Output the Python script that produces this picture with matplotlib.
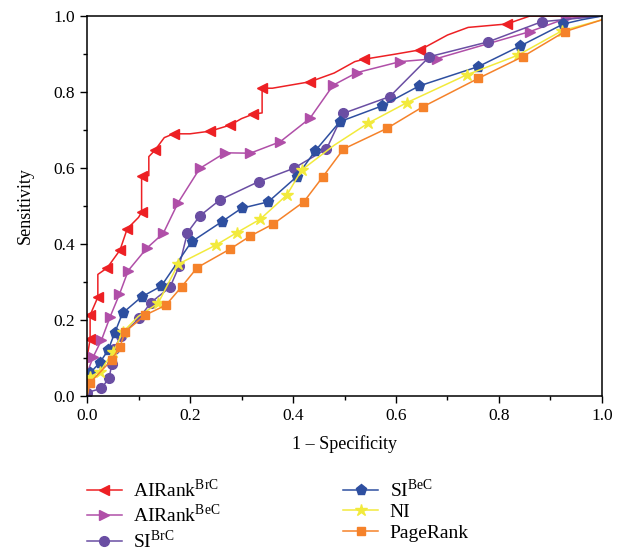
import numpy as np
import matplotlib.pyplot as plt
from matplotlib.ticker import MultipleLocator

plt.rcParams['font.family'] = ['Liberation Serif', 'DejaVu Serif']
plt.rcParams['mathtext.fontset'] = 'custom'
plt.rcParams['mathtext.rm'] = 'Liberation Serif'

# ROC curves: line vertices (x = 1 - specificity, y = sensitivity)
# and the indices of vertices that carry a marker
air_brc_x = [0, 0, 0.006, 0.006, 0.021, 0.021, 0.039, 0.064, 0.078, 0.1, 0.106, 0.106, 0.12, 0.12, 0.132,
             0.15, 0.168, 0.2, 0.239, 0.278, 0.30, 0.323, 0.34, 0.34, 0.36, 0.433, 0.48, 0.52, 0.537,
             0.6, 0.647, 0.7, 0.74, 0.815, 0.86, 1.0]
air_brc_y = [0, 0.1, 0.15, 0.213, 0.26, 0.32, 0.337, 0.384, 0.44, 0.47, 0.484, 0.579, 0.58, 0.63, 0.647,
             0.68, 0.69, 0.69, 0.697, 0.713, 0.73, 0.742, 0.745, 0.81, 0.81, 0.827, 0.85, 0.88, 0.886,
             0.90, 0.911, 0.95, 0.97, 0.979, 1.0, 1.0]
air_brc_m = [2, 3, 4, 6, 7, 8, 10, 11, 14, 16, 18, 19, 21, 23, 25, 28, 30, 33]

air_bec_x = [0, 0, 0.012, 0.028, 0.045, 0.063, 0.080, 0.116, 0.148, 0.177, 0.219, 0.268, 0.317, 0.375,
             0.433, 0.478, 0.524, 0.608, 0.679, 0.86, 0.931, 1.0]
air_bec_y = [0, 0.06, 0.103, 0.147, 0.209, 0.268, 0.33, 0.389, 0.428, 0.509, 0.599, 0.64, 0.639, 0.669,
             0.731, 0.818, 0.851, 0.88, 0.888, 0.959, 0.994, 1.0]
air_bec_m = list(range(2, 21))

si_brc_x = [0, 0.028, 0.043, 0.048, 0.053, 0.066, 0.101, 0.124, 0.161, 0.179, 0.195, 0.219, 0.258,
            0.333, 0.401, 0.465, 0.498, 0.588, 0.665, 0.779, 0.883, 1.0]
si_brc_y = [0.009, 0.02, 0.048, 0.083, 0.124, 0.159, 0.204, 0.246, 0.286, 0.342, 0.43, 0.474, 0.516,
            0.564, 0.599, 0.65, 0.744, 0.788, 0.893, 0.932, 0.985, 1.0]
si_brc_m = list(range(0, 21))

si_bec_x = [0, 0.006, 0.025, 0.041, 0.054, 0.069, 0.106, 0.144, 0.203, 0.262, 0.300, 0.352, 0.407,
            0.443, 0.491, 0.572, 0.645, 0.76, 0.841, 0.925, 0.96, 1.0]
si_bec_y = [0, 0.061, 0.088, 0.121, 0.167, 0.218, 0.261, 0.289, 0.406, 0.459, 0.494, 0.511, 0.577,
            0.645, 0.722, 0.763, 0.816, 0.867, 0.921, 0.979, 0.99, 1.0]
si_bec_m = list(range(1, 20))

ni_x = [0, 0.006, 0.025, 0.051, 0.07, 0.1, 0.138, 0.177, 0.25, 0.291, 0.336, 0.388, 0.417, 0.48,
        0.546, 0.621, 0.737, 0.837, 0.922, 1.0]
ni_y = [0, 0.051, 0.064, 0.117, 0.169, 0.21, 0.244, 0.347, 0.397, 0.43, 0.465, 0.529, 0.595, 0.66,
        0.718, 0.772, 0.845, 0.897, 0.961, 0.99]
ni_m = [1, 2, 3, 4, 6, 7, 8, 9, 10, 11, 12, 14, 15, 16, 17, 18]

pr_x = [0, 0.006, 0.048, 0.064, 0.074, 0.113, 0.153, 0.184, 0.214, 0.278, 0.317, 0.362, 0.421, 0.458,
        0.498, 0.582, 0.652, 0.76, 0.846, 0.928, 1.0]
pr_y = [0, 0.035, 0.095, 0.13, 0.169, 0.213, 0.239, 0.288, 0.338, 0.387, 0.421, 0.453, 0.511, 0.577,
        0.65, 0.704, 0.761, 0.836, 0.893, 0.959, 0.99]
pr_m = list(range(1, 20))

fig = plt.figure(figsize=(6.32, 5.58), dpi=100)
ax = fig.add_axes([0.1377, 0.2903, 0.8148, 0.681])

ax.plot(air_brc_x, air_brc_y, color='#ed2024', lw=1.1, marker='<', ms=7, markevery=air_brc_m,
        label='AIRank$^{\\mathrm{BrC}}$')
ax.plot(air_bec_x, air_bec_y, color='#b04fa8', lw=1.1, marker='>', ms=7, markevery=air_bec_m,
        label='AIRank$^{\\mathrm{BeC}}$')
ax.plot(si_brc_x, si_brc_y, color='#6a4ea3', lw=1.1, marker='o', ms=7, markevery=si_brc_m,
        label='SI$^{\\mathrm{BrC}}$')
ax.plot(si_bec_x, si_bec_y, color='#2e4fa0', lw=1.1, marker='p', ms=8, markevery=si_bec_m,
        label='SI$^{\\mathrm{BeC}}$')
ax.plot(ni_x, ni_y, color='#f2ea3c', lw=1.1, marker='*', ms=9, markevery=ni_m, label='NI')
ax.plot(pr_x, pr_y, color='#f5822a', lw=1.1, marker='s', ms=6, markevery=pr_m, label='PageRank')

ax.set_xlim(0, 1)
ax.set_ylim(0, 1)
ax.xaxis.set_major_locator(MultipleLocator(0.2))
ax.xaxis.set_minor_locator(MultipleLocator(0.1))
ax.yaxis.set_major_locator(MultipleLocator(0.2))
ax.yaxis.set_minor_locator(MultipleLocator(0.1))
ax.xaxis.set_major_formatter(plt.FormatStrFormatter('%.1f'))
ax.yaxis.set_major_formatter(plt.FormatStrFormatter('%.1f'))
ax.tick_params(which='major', direction='out', length=5, width=1, labelsize=12.5)
ax.tick_params(which='minor', direction='out', length=3, width=1)
for s in ax.spines.values():
    s.set_linewidth(1.1)
ax.set_xlabel('1 – Specificity', fontsize=13, labelpad=8)
ax.set_ylabel('Sensitivity', fontsize=13, labelpad=14)

ax.legend(loc='upper left', bbox_to_anchor=(-0.035, -0.17), ncol=2, frameon=False, fontsize=14,
          handlelength=1.8, columnspacing=6.3, labelspacing=0.15, handletextpad=0.6)

plt.savefig('out.png', dpi=100)
